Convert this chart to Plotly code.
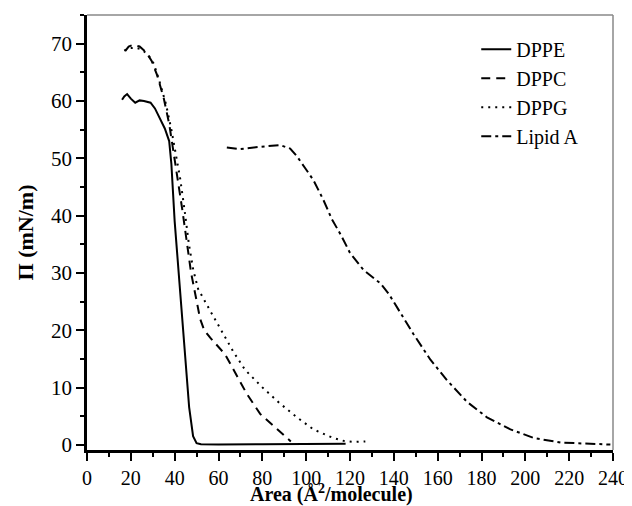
import plotly.graph_objects as go

# DPPE (solid)
dppe_x = [16, 17, 18.3, 20, 22, 24, 26, 29, 31, 33, 35.5, 37.5, 38.5, 40, 42.5, 44, 45.5, 46.6, 48.4, 50, 52, 60, 80, 100, 118]
dppe_y = [60.2, 60.8, 61.2, 60.4, 59.7, 60.1, 60.0, 59.7, 58.7, 57.0, 55.2, 53.0, 49.0, 39.0, 27.0, 19.0, 11.0, 6.6, 1.5, 0.3, 0.1, 0.05, 0.1, 0.1, 0.2]

# DPPC (dashed)
dppc_x = [17.4, 19, 21, 24, 27, 29.5, 32, 35, 37.5, 39.5, 41.5, 43.5, 45.5, 47.5, 49.3, 51.6, 53.5, 56.2, 63, 68, 72.9, 79, 84.3, 91.2, 93]
dppc_y = [68.7, 69.5, 69.8, 69.5, 68.5, 67.0, 64.5, 60.5, 56.0, 51.0, 46.5, 41.0, 35.5, 30.0, 26.5, 22.0, 20.0, 18.7, 15.8, 12.4, 8.9, 5.4, 3.6, 1.2, 0.6]

# DPPG (dotted)
dppg_x = [17, 19, 22, 25, 28, 30.5, 33, 36, 38.5, 40.5, 42.5, 44.5, 46.5, 48.5, 50.7, 56.2, 61.5, 66.7, 72.1, 79.8, 88.1, 95.8, 103.3, 112.3, 117, 122, 127]
dppg_y = [68.8, 69.2, 69.3, 69.0, 68.0, 66.5, 63.5, 59.5, 55.0, 50.5, 46.5, 41.0, 35.0, 30.5, 27.2, 23.4, 19.9, 16.3, 13.1, 10.1, 7.2, 4.8, 2.7, 1.2, 0.7, 0.5, 0.6]

# Lipid A (dash-dot)
lipa_x = [63.8, 69.9, 79, 88.1, 92.7, 95.7, 99.5, 103.3, 107.9, 111.7, 116, 120, 126.2, 133.8, 137.6, 143.7, 149, 156.6, 164.2, 173.4, 182.5, 193.2, 203.8, 216, 228, 238.8]
lipa_y = [51.9, 51.6, 52.0, 52.3, 51.7, 50.4, 48.3, 46.2, 42.7, 39.4, 36.5, 33.5, 30.5, 28.2, 26.4, 22.6, 19.3, 14.9, 11.3, 7.5, 4.8, 2.7, 1.2, 0.4, 0.15, 0.05]

series = [
    ("DPPE", dppe_x, dppe_y, "solid"),
    ("DPPC", dppc_x, dppc_y, "9px,6px"),
    ("DPPG", dppg_x, dppg_y, "2px,5px"),
    ("Lipid A", lipa_x, lipa_y, "10px,4px,3px,4px"),
]

x_title = "<b>Area (Å<sup>2</sup>/molecule)</b>"
y_title = "<b>Π (mN/m)</b>"

fig = go.Figure()
for i, (name, xs, ys, dash) in enumerate(series):
    fig.add_trace(go.Scatter(
        x=xs, y=ys, mode="lines", name=name,
        line=dict(color="black", width=2, dash=dash),
    ))

font_family = "Liberation Serif, Times New Roman, serif"

# page body has an 8px margin, so the figure is sized to fill the rest
fig.update_layout(
    width=624, height=498,
    margin=dict(l=79, r=19, t=7, b=56),
    plot_bgcolor="white", paper_bgcolor="white",
    font=dict(family=font_family, color="black", size=20),
    showlegend=True,
    legend=dict(
        x=0.74, y=0.966, xanchor="left", yanchor="top",
        font=dict(family=font_family, size=20, color="black"),
        bgcolor="rgba(0,0,0,0)", tracegroupgap=0,
    ),
    xaxis=dict(
        range=[0, 240], dtick=20, tick0=0, automargin=False,
        showline=True, linecolor="black", linewidth=2.5,
        ticks="outside", ticklen=8, tickwidth=2, tickcolor="black",
        minor=dict(ticks="outside", dtick=10, ticklen=4, tickwidth=2, tickcolor="black"),
        showgrid=False, zeroline=False,
        tickfont=dict(size=20, family=font_family),
    ),
    yaxis=dict(
        range=[-0.9, 75], dtick=10, tick0=0, automargin=False,
        showline=True, linecolor="black", linewidth=2.5,
        ticks="outside", ticklen=8, tickwidth=2, tickcolor="black",
        minor=dict(ticks="outside", dtick=5, ticklen=4, tickwidth=2, tickcolor="black"),
        showgrid=False, zeroline=False,
        tickfont=dict(size=21, family=font_family),
        title=dict(text=y_title, font=dict(size=22, family=font_family), standoff=12),
    ),
    annotations=[
        dict(text=x_title, xref="paper", yref="paper", x=0.464, y=-0.10,
             xanchor="center", yanchor="middle", showarrow=False,
             font=dict(size=20, family=font_family, color="black")),
    ],
    shapes=[
        dict(type="line", xref="paper", yref="paper", x0=0, x1=1, y0=1, y1=1,
             line=dict(color="#888888", width=1.5)),
        dict(type="line", xref="paper", yref="paper", x0=1, x1=1, y0=0, y1=1,
             line=dict(color="#888888", width=1.5)),
    ],
)

fig.write_html("out.html")
